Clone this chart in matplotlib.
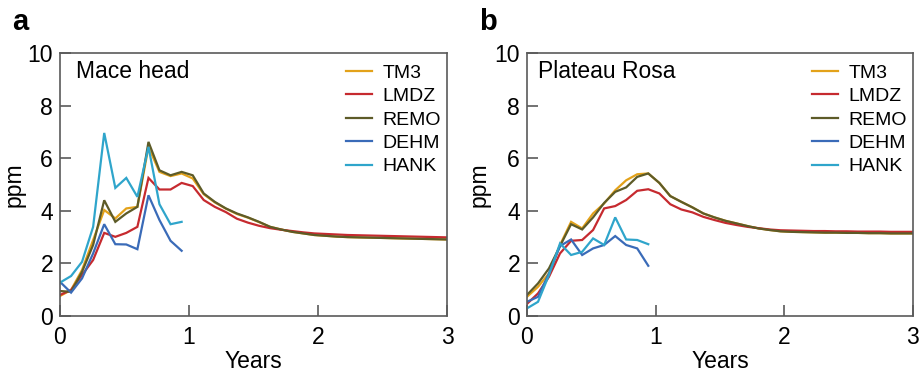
import matplotlib.pyplot as plt

plt.rcParams['font.family'] = ['Liberation Sans', 'DejaVu Sans']

# time axis: 36 steps over 3 years
years = [0.0, 0.086, 0.171, 0.257, 0.343, 0.429, 0.514, 0.6, 0.686, 0.771,
         0.857, 0.943, 1.029, 1.114, 1.2, 1.286, 1.371, 1.457, 1.543, 1.629,
         1.714, 1.8, 1.886, 1.971, 2.057, 2.143, 2.229, 2.314, 2.4, 2.486,
         2.571, 2.657, 2.743, 2.829, 2.914, 3.0]

models = ['TM3', 'LMDZ', 'REMO', 'DEHM', 'HANK']
colors = ['#E3A21A', '#C62A2F', '#5D5B28', '#3A6BB8', '#2FA5CB']

# Mace head
mace_tm3 = [0.76, 0.99, 1.75, 2.89, 4.03, 3.71, 4.09, 4.15, 6.43, 5.48, 5.32, 5.42,
            5.23, 4.63, 4.32, 4.08, 3.88, 3.74, 3.57, 3.39, 3.29, 3.2, 3.14, 3.08,
            3.05, 3.02, 3.0, 2.99, 2.98, 2.97, 2.96, 2.95, 2.94, 2.93, 2.92, 2.91]
mace_lmdz = [0.8, 0.99, 1.56, 2.13, 3.16, 3.01, 3.16, 3.39, 5.25, 4.81, 4.81, 5.06,
             4.94, 4.41, 4.15, 3.95, 3.7, 3.55, 3.43, 3.34, 3.28, 3.23, 3.18, 3.14,
             3.12, 3.1, 3.08, 3.07, 3.06, 3.05, 3.04, 3.03, 3.02, 3.01, 3.0, 2.99]
mace_remo = [0.95, 0.92, 1.68, 2.7, 4.4, 3.58, 3.9, 4.15, 6.62, 5.54, 5.35, 5.48,
             5.35, 4.66, 4.34, 4.09, 3.9, 3.75, 3.58, 3.39, 3.29, 3.2, 3.14, 3.08,
             3.05, 3.02, 3.0, 2.99, 2.98, 2.97, 2.96, 2.95, 2.94, 2.93, 2.92, 2.91]
mace_dehm = [1.3, 0.89, 1.43, 2.38, 3.49, 2.73, 2.72, 2.54, 4.59, 3.65, 2.86, 2.48]
mace_hank = [1.27, 1.52, 2.06, 3.39, 6.96, 4.87, 5.25, 4.53, 6.43, 4.25, 3.49, 3.58]

# Plateau Rosa
rosa_tm3 = [0.73, 1.11, 1.62, 2.7, 3.58, 3.33, 3.9, 4.28, 4.78, 5.16, 5.39, 5.42,
            5.06, 4.56, 4.34, 4.13, 3.9, 3.75, 3.62, 3.52, 3.42, 3.33, 3.27, 3.22,
            3.2, 3.19, 3.18, 3.17, 3.17, 3.16, 3.16, 3.15, 3.15, 3.14, 3.14, 3.14]
rosa_lmdz = [0.46, 0.86, 1.49, 2.38, 2.86, 2.89, 3.27, 4.09, 4.18, 4.41, 4.76, 4.82,
             4.66, 4.25, 4.05, 3.94, 3.77, 3.65, 3.54, 3.46, 3.39, 3.34, 3.29, 3.26,
             3.25, 3.24, 3.23, 3.23, 3.22, 3.22, 3.21, 3.21, 3.21, 3.2, 3.2, 3.2]
rosa_remo = [0.8, 1.24, 1.81, 2.66, 3.49, 3.29, 3.75, 4.3, 4.72, 4.89, 5.29, 5.42,
             5.06, 4.56, 4.34, 4.13, 3.9, 3.75, 3.62, 3.52, 3.42, 3.33, 3.27, 3.22,
             3.2, 3.19, 3.18, 3.17, 3.17, 3.16, 3.16, 3.15, 3.15, 3.14, 3.14, 3.14]
rosa_dehm = [0.54, 0.73, 1.62, 2.66, 2.91, 2.32, 2.57, 2.7, 3.04, 2.7, 2.57, 1.91]
rosa_hank = [0.29, 0.54, 1.56, 2.76, 2.32, 2.44, 2.95, 2.7, 3.75, 2.91, 2.89, 2.73]

panels = [
    ('a', 'Mace head', [mace_tm3, mace_lmdz, mace_remo, mace_dehm, mace_hank],
     [0.0649, 0.1573, 0.4189, 0.7014], 0.041, -0.09),
    ('b', 'Plateau Rosa', [rosa_tm3, rosa_lmdz, rosa_remo, rosa_dehm, rosa_hank],
     [0.5703, 0.1573, 0.4177, 0.7014], 0.028, -0.095),
]

fig = plt.figure(figsize=(9.24, 3.75), dpi=100)
spine_col = '#5a5a5a'

for letter, site, series, rect, tx, ylx in panels:
    ax = fig.add_axes(rect)
    for name, col, vals in zip(models, colors, series):
        ax.plot(years[:len(vals)], vals, color=col, lw=1.6, label=name,
                solid_joinstyle='miter')
    ax.set_xlim(0, 3)
    ax.set_ylim(0, 10)
    ax.set_xticks([0, 1, 2, 3])
    ax.set_yticks([0, 2, 4, 6, 8, 10])
    ax.tick_params(direction='in', length=8, width=1.2, color=spine_col,
                   labelsize=16.5)
    ax.tick_params(axis='x', pad=7)
    ax.tick_params(axis='y', pad=5)
    for sp in ax.spines.values():
        sp.set_color(spine_col)
        sp.set_linewidth(1.2)
    ax.set_xlabel('Years', fontsize=16.5)
    ax.set_ylabel('ppm', fontsize=16.5)
    ax.xaxis.set_label_coords(0.5, -0.128)
    ax.yaxis.set_label_coords(ylx, 0.5)
    ax.text(tx, 0.93, site, transform=ax.transAxes, fontsize=16.5,
            va='center', ha='left')
    ax.legend(loc='upper left', bbox_to_anchor=(0.738, 0.958), frameon=False,
              fontsize=14, handlelength=1.35, handletextpad=0.55,
              labelspacing=0.3, borderpad=0, borderaxespad=0)
    fig.text(rect[0] - 0.052, 0.942, letter, fontsize=21, fontweight='bold',
             va='center', ha='left')

fig.savefig('out.png', dpi=100)
